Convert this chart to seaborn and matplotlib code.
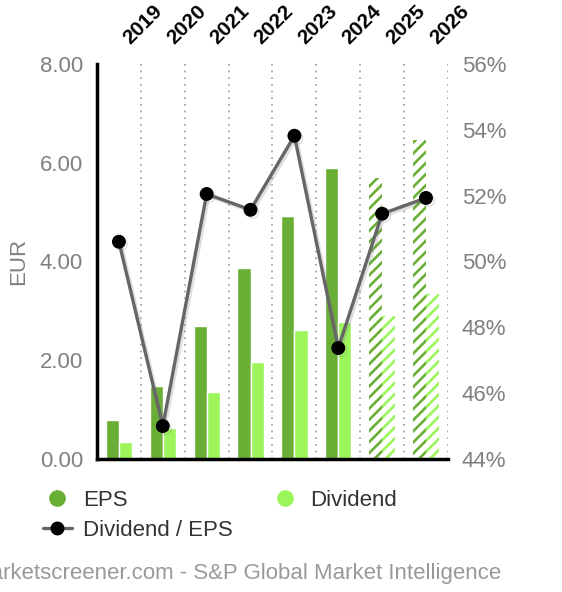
import numpy as np
import pandas as pd
import matplotlib
matplotlib.use("Agg")
import matplotlib.pyplot as plt
import matplotlib.patheffects as pe
import matplotlib.transforms as mtransforms
from matplotlib.lines import Line2D
import seaborn as sns

# -----------------------------
# DATA
# -----------------------------
years = ["2019", "2020", "2021", "2022", "2023", "2024", "2025", "2026"]
eps = [0.79, 1.48, 2.69, 3.87, 4.92, 5.89, 5.69, 6.46]
dividend = [0.34, 0.63, 1.36, 1.96, 2.61, 2.77, 2.89, 3.34]
payout = [50.6, 45.0, 52.05, 51.57, 53.82, 47.37, 51.45, 51.93]
estimate_years = ["2025", "2026"]

eps_color = "#6aaf35"
div_color = "#9cf55b"
line_color = "#666666"
grey_txt = "#808080"

df = pd.concat([
    pd.DataFrame({"year": years, "series": "EPS", "value": eps}),
    pd.DataFrame({"year": years, "series": "Dividend", "value": dividend}),
], ignore_index=True)

# -----------------------------
# PLOT
# -----------------------------
sns.set_style("white")
plt.rcParams["font.family"] = ["Liberation Sans", "DejaVu Sans"]
plt.rcParams["hatch.linewidth"] = 1.9

fig = plt.figure(figsize=(5.62, 5.92), dpi=100)
ax = fig.add_axes([0.1726, 0.2247, 0.797 - 0.1726, 0.8919 - 0.2247])

sns.barplot(
    data=df, x="year", y="value", hue="series",
    order=years, hue_order=["EPS", "Dividend"],
    palette=[eps_color, div_color],
    width=0.6, saturation=1, ax=ax, legend=False,
)

# hatch the estimates: coloured stripes on white
n = len(years)
for i, bar in enumerate(ax.patches[:2 * n]):
    if years[i % n] in estimate_years:
        col = bar.get_facecolor()
        bar.set_facecolor("white")
        bar.set_hatch("///")
        bar.set_edgecolor(col)
        bar.set_linewidth(0)

ax.set_xlim(-0.5, n - 0.5)
ax.set_ylim(0, 8)
ax.set_yticks([0, 2, 4, 6, 8])
ax.set_yticklabels([f"{v:.2f}" for v in [0, 2, 4, 6, 8]], color=grey_txt, fontsize=16)
ax.set_ylabel("EUR", color=grey_txt, fontsize=16, labelpad=8)
ax.set_xlabel("")
ax.tick_params(axis="y", length=0, pad=10)

# years on top, drawn as rotated texts
ax.set_xticks([])
offset = mtransforms.ScaledTranslation(11 / 100, 19 / 100, fig.dpi_scale_trans)
top_trans = ax.get_xaxis_transform() + offset
for i, yr in enumerate(years):
    ax.text(i, 1, yr, transform=top_trans, rotation=45, rotation_mode="anchor",
            ha="left", va="baseline", fontsize=15, fontweight="bold", color="black")

for x in np.arange(0.5, n, 1.0):
    ax.axvline(x, color="#999999", linestyle=(0, (1, 3)), linewidth=1.2, zorder=0)

for s in ["top", "right"]:
    ax.spines[s].set_visible(False)
for s in ["left", "bottom"]:
    ax.spines[s].set_color("black")
    ax.spines[s].set_linewidth(2.5)

# payout ratio on the right axis
ax2 = ax.twinx()
ax2.plot(
    range(n), payout, "-o", color=line_color, linewidth=2.4,
    markersize=9, markerfacecolor="black", markeredgecolor="black",
    path_effects=[pe.SimpleLineShadow(offset=(1.5, -1.5), shadow_color="grey", alpha=0.25), pe.Normal()],
)
ax2.set_ylim(44, 56)
ax2.set_yticks(range(44, 57, 2))
ax2.set_yticklabels([f"{v}%" for v in range(44, 57, 2)], color=grey_txt, fontsize=16)
ax2.tick_params(axis="y", length=0, pad=10)
for s in ax2.spines.values():
    s.set_visible(False)

# legend
handles = [
    Line2D([], [], linestyle="", marker="o", markersize=11, color=eps_color),
    Line2D([], [], color=line_color, linewidth=2.4, marker="o", markersize=9,
           markerfacecolor="black", markeredgecolor="black"),
    Line2D([], [], linestyle="", marker="o", markersize=11, color=div_color),
]
fig.legend(
    handles, ["EPS", "Dividend / EPS", "Dividend"],
    ncol=2, loc="upper left", bbox_to_anchor=(0.0765, 0.172),
    frameon=False, fontsize=16, handlelength=1.3, handletextpad=0.5,
    columnspacing=1.7, labelspacing=0.4, borderpad=0, borderaxespad=0,
    labelcolor="#333333",
)

fig.text(501 / 562, 1 - 573 / 592, "marketscreener.com - S&P Global Market Intelligence",
         ha="right", va="center", fontsize=16, color="#999999")

fig.savefig("out.png", dpi=100)
